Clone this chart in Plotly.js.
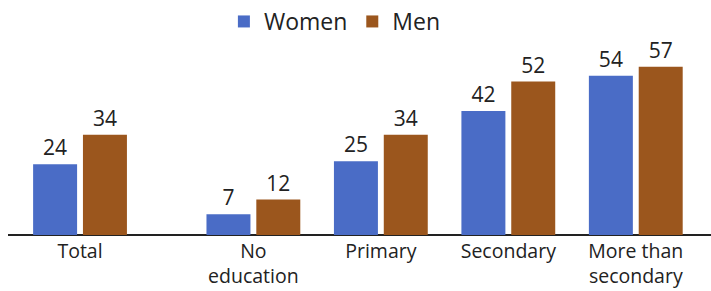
<!DOCTYPE html>
<html><head><meta charset="utf-8">
<script src="https://cdn.plot.ly/plotly-3.0.1.min.js"></script>
<style>html,body{margin:0;padding:0;background:#fff}#c{width:711px;height:291px}</style>
</head><body><div id="c"></div>
<script>
const categories = ["Total", "No<br>education", "Primary", "Secondary", "More than<br>secondary"];
const women = [24, 7, 25, 42, 54];
const men = [34, 12, 34, 52, 57];
const seriesNames = ["Women", "Men"];

const xpos = [0, 1.36, 2.36, 3.36, 4.36];
const W = 0.345;
const font = "Open Sans, Noto Sans, sans-serif";

const traces = [
  {type:'bar', name:seriesNames[0], x:xpos, y:women, width:W, offset:-0.368,
   marker:{color:'#4a6cc6', line:{width:0}}, text:women.map(String), textposition:'outside',
   textfont:{size:21, color:'#222', family:font}, cliponaxis:false},
  {type:'bar', name:seriesNames[1], x:xpos, y:men, width:W, offset:0.023,
   marker:{color:'#9b561d', line:{width:0}}, text:men.map(String), textposition:'outside',
   textfont:{size:21, color:'#222', family:font}, cliponaxis:false}
];

const layout = {
  width:711, height:291,
  margin:{l:8, r:0, t:60, b:56},
  paper_bgcolor:'#fff', plot_bgcolor:'#fff',
  barmode:'overlay',
  showlegend:true,
  legend:{orientation:'h', x:0.465, xanchor:'center', y:1.0, yref:'container', yanchor:'top',
          font:{size:23, family:font, color:'#222'}, itemsizing:'constant', traceorder:'normal'},
  xaxis:{range:[-0.565, 4.95], tickvals:xpos, ticktext:categories, showgrid:false, zeroline:false,
         showline:false, ticks:'', ticklabelstandoff:2, tickfont:{size:19.5, family:font, color:'#222'}, fixedrange:true},
  yaxis:{range:[0, 59.3], showgrid:false, zeroline:true, zerolinecolor:'#222', zerolinewidth:2,
         showticklabels:false, ticks:'', showline:false},
  font:{family:font}
};
Plotly.newPlot('c', traces, layout, {displayModeBar:false, staticPlot:true});
</script></body></html>
